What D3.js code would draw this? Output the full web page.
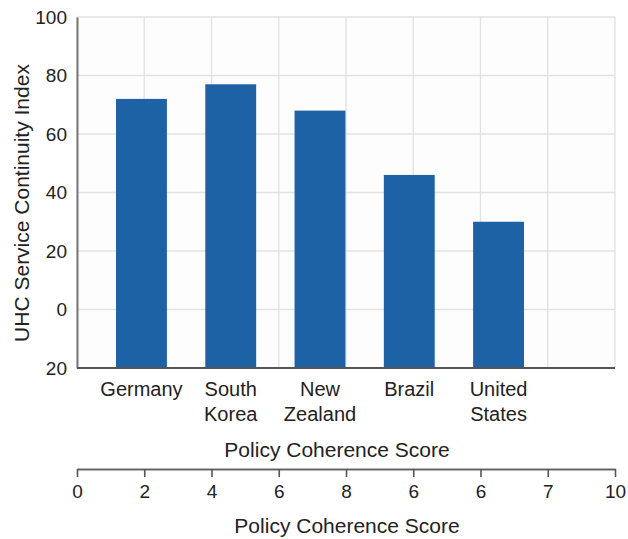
<!DOCTYPE html>
<html>
<head>
<meta charset="utf-8">
<script src="https://cdn.jsdelivr.net/npm/d3@7"></script>
<style>
  html, body { margin: 0; padding: 0; background: #ffffff; }
  svg { display: block; font-family: "Liberation Sans", Arial, Helvetica, sans-serif; }
</style>
</head>
<body>
<svg id="chart" width="628" height="539"></svg>
<script>
// Countries and their UHC service continuity index
const countries = ["Germany", "South Korea", "New Zealand", "Brazil", "United States"];
const countryLines = [["Germany"], ["South", "Korea"], ["New", "Zealand"], ["Brazil"], ["United", "States"]];
const continuityIndex = [72, 77, 68, 46, 30];

// Vertical axis ticks (lowest tick is shown without its sign)
const yTicks = [-20, 0, 20, 40, 60, 80, 100];
const yTickLabels = ["20", "0", "20", "40", "60", "80", "100"];

// Policy coherence score axis labels, one per grid column edge
const scoreTickLabels = ["0", "2", "4", "6", "8", "6", "6", "7", "10"];

const svg = d3.select("#chart");
const plot = { left: 77, right: 615, top: 17, bottom: 368 };
const textColor = "#222222";

const y = d3.scaleLinear().domain([-20, 100]).range([plot.bottom, plot.top]);

// Evenly spaced score positions spanning the full plot width
const score = d3.scalePoint()
  .domain(scoreTickLabels.map((d, i) => i))
  .range([plot.left, plot.right]);

const x = d3.scaleBand()
  .domain(countries)
  .range([plot.left, plot.left + 486])
  .paddingInner(0.43)
  .paddingOuter(0.437);

// Plot background
svg.append("rect")
  .attr("x", plot.left).attr("y", plot.top)
  .attr("width", plot.right - plot.left).attr("height", plot.bottom - plot.top)
  .attr("fill", "#fdfdfd");

// Grid
const grid = svg.append("g").attr("stroke", "#e2e2e2").attr("stroke-width", 1.3);
grid.selectAll("line.h").data(yTicks).join("line")
  .attr("class", "h")
  .attr("x1", plot.left).attr("x2", plot.right)
  .attr("y1", d => y(d)).attr("y2", d => y(d));
grid.selectAll("line.v").data(score.domain()).join("line")
  .attr("class", "v")
  .attr("x1", d => score(d)).attr("x2", d => score(d))
  .attr("y1", plot.top).attr("y2", plot.bottom);

// Bars rise from the bottom of the scale
svg.append("g").selectAll("rect").data(countries).join("rect")
  .attr("x", d => x(d))
  .attr("width", x.bandwidth())
  .attr("y", (d, i) => y(continuityIndex[i]))
  .attr("height", (d, i) => y(-20) - y(continuityIndex[i]))
  .attr("fill", "#1e62a6");

// Left axis
const yAxis = svg.append("g")
  .attr("transform", `translate(${plot.left},0)`)
  .call(d3.axisLeft(y).tickValues(yTicks).tickSize(0).tickPadding(10)
    .tickFormat((d, i) => yTickLabels[i]));
yAxis.select(".domain").attr("stroke", "#777777").attr("stroke-width", 2);
yAxis.selectAll("text").attr("font-size", 19).attr("fill", textColor)
  .attr("font-family", "'Liberation Sans', Arial, sans-serif");

// Bottom baseline
svg.append("line")
  .attr("x1", plot.left).attr("x2", plot.right)
  .attr("y1", plot.bottom).attr("y2", plot.bottom)
  .attr("stroke", "#555555").attr("stroke-width", 2);

// Country labels
const catLabels = svg.append("g").attr("font-size", 20).attr("fill", textColor)
  .attr("text-anchor", "middle");
catLabels.selectAll("text").data(countries).join("text")
  .attr("x", d => x(d) + x.bandwidth() / 2)
  .attr("y", 396)
  .each(function (d, i) {
    d3.select(this).selectAll("tspan").data(countryLines[i]).join("tspan")
      .attr("x", x(d) + x.bandwidth() / 2)
      .attr("dy", (t, j) => j === 0 ? 0 : 25)
      .text(t => t);
  });

svg.append("text")
  .attr("x", 337).attr("y", 457)
  .attr("text-anchor", "middle").attr("font-size", 21).attr("fill", textColor)
  .text("Policy Coherence Score");

// Secondary score axis
const scoreAxis = svg.append("g")
  .attr("transform", "translate(0,469)")
  .call(d3.axisBottom(score).tickSize(8).tickSizeOuter(0).tickPadding(8)
    .tickFormat(i => scoreTickLabels[i]));
scoreAxis.select(".domain").attr("stroke", "#666666").attr("stroke-width", 2);
scoreAxis.selectAll(".tick line").attr("stroke", "#555555").attr("stroke-width", 1.6);
scoreAxis.selectAll("text").attr("font-size", 19).attr("fill", textColor)
  .attr("font-family", "'Liberation Sans', Arial, sans-serif");

svg.append("text")
  .attr("x", 347).attr("y", 533)
  .attr("text-anchor", "middle").attr("font-size", 21).attr("fill", textColor)
  .text("Policy Coherence Score");

// Vertical axis title
svg.append("text")
  .attr("transform", "translate(29,203) rotate(-90)")
  .attr("text-anchor", "middle").attr("font-size", 21).attr("fill", textColor)
  .text("UHC Service Continuity Index");
</script>
</body>
</html>
